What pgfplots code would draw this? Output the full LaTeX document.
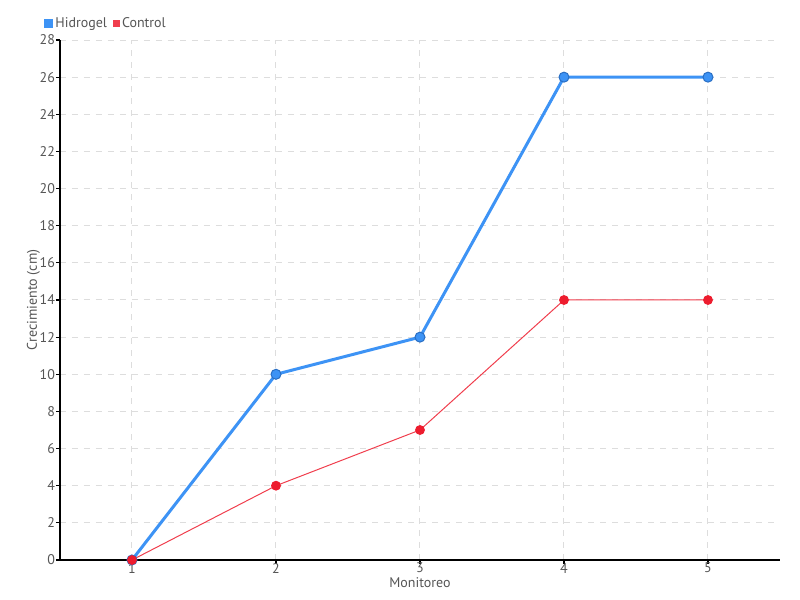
\documentclass[border=0pt]{standalone}
\usepackage{fontspec}
\setmainfont{PT Sans}
\usepackage{pgfplots}
\pgfplotsset{compat=1.18}
\definecolor{hblue}{HTML}{3D93F5}
\definecolor{hblueD}{HTML}{2A6FC4}
\definecolor{cred}{HTML}{ED1C2E}
\definecolor{txt}{HTML}{555555}
\definecolor{gridc}{HTML}{DDDDDD}
\begin{document}
\fontsize{7}{8}\selectfont
\begin{tikzpicture}
\useasboundingbox (-30pt,-20pt) rectangle (370pt,280pt);
\begin{axis}[
  scale only axis, width=360pt, height=260pt,
  at={(0,0)}, anchor=south west,
  xmin=0.5, xmax=5.5, ymin=0, ymax=28,
  xtick={1,2,3,4,5}, ytick={0,2,...,28},
  axis x line*=bottom, axis y line*=left,
  axis line style={black, line width=0.6pt, -},
  tick style={black, line width=0.6pt},
  tick align=outside, major tick length=2pt,
  grid=major, grid style={gridc, dashed, line width=0.5pt},
  ticklabel style={text=txt, font=\fontsize{7}{8}\selectfont},
  /pgf/number format/assume math mode=true,
  xticklabel style={yshift=3pt},
  yticklabel style={xshift=2pt},
  xlabel={Monitoreo}, ylabel={Crecimiento (cm)},
  label style={text=txt, font=\fontsize{7}{8}\selectfont},
  xlabel style={yshift=2.5pt},
  ylabel style={yshift=-5pt},
  legend style={at={(0,1)}, anchor=south west, xshift=-8pt, yshift=4pt, draw=none, fill=none,
    legend columns=2, font=\fontsize{7}{8}\selectfont, text=txt,
    /tikz/every even column/.append style={column sep=2pt},
    inner sep=0pt, nodes={inner sep=1pt}},
  legend image code/.code={\fill[#1] (0pt,-1.5pt) rectangle (3pt,1.5pt);},
  clip=false,
]
\addplot[hblue, line width=1.5pt, mark=*, mark size=2.5pt, mark options={fill=hblue, draw=hblueD, line width=0.5pt}] coordinates {(1,0) (2,10) (3,12) (4,26) (5,26)};
\addlegendentry{Hidrogel}
\addplot[cred!85, line width=0.5pt, mark=*, mark size=2.2pt, mark options={fill=cred, draw=cred}] coordinates {(1,0) (2,4) (3,7) (4,14) (5,14)};
\addlegendentry{Control}
\end{axis}
\end{tikzpicture}
\end{document}
